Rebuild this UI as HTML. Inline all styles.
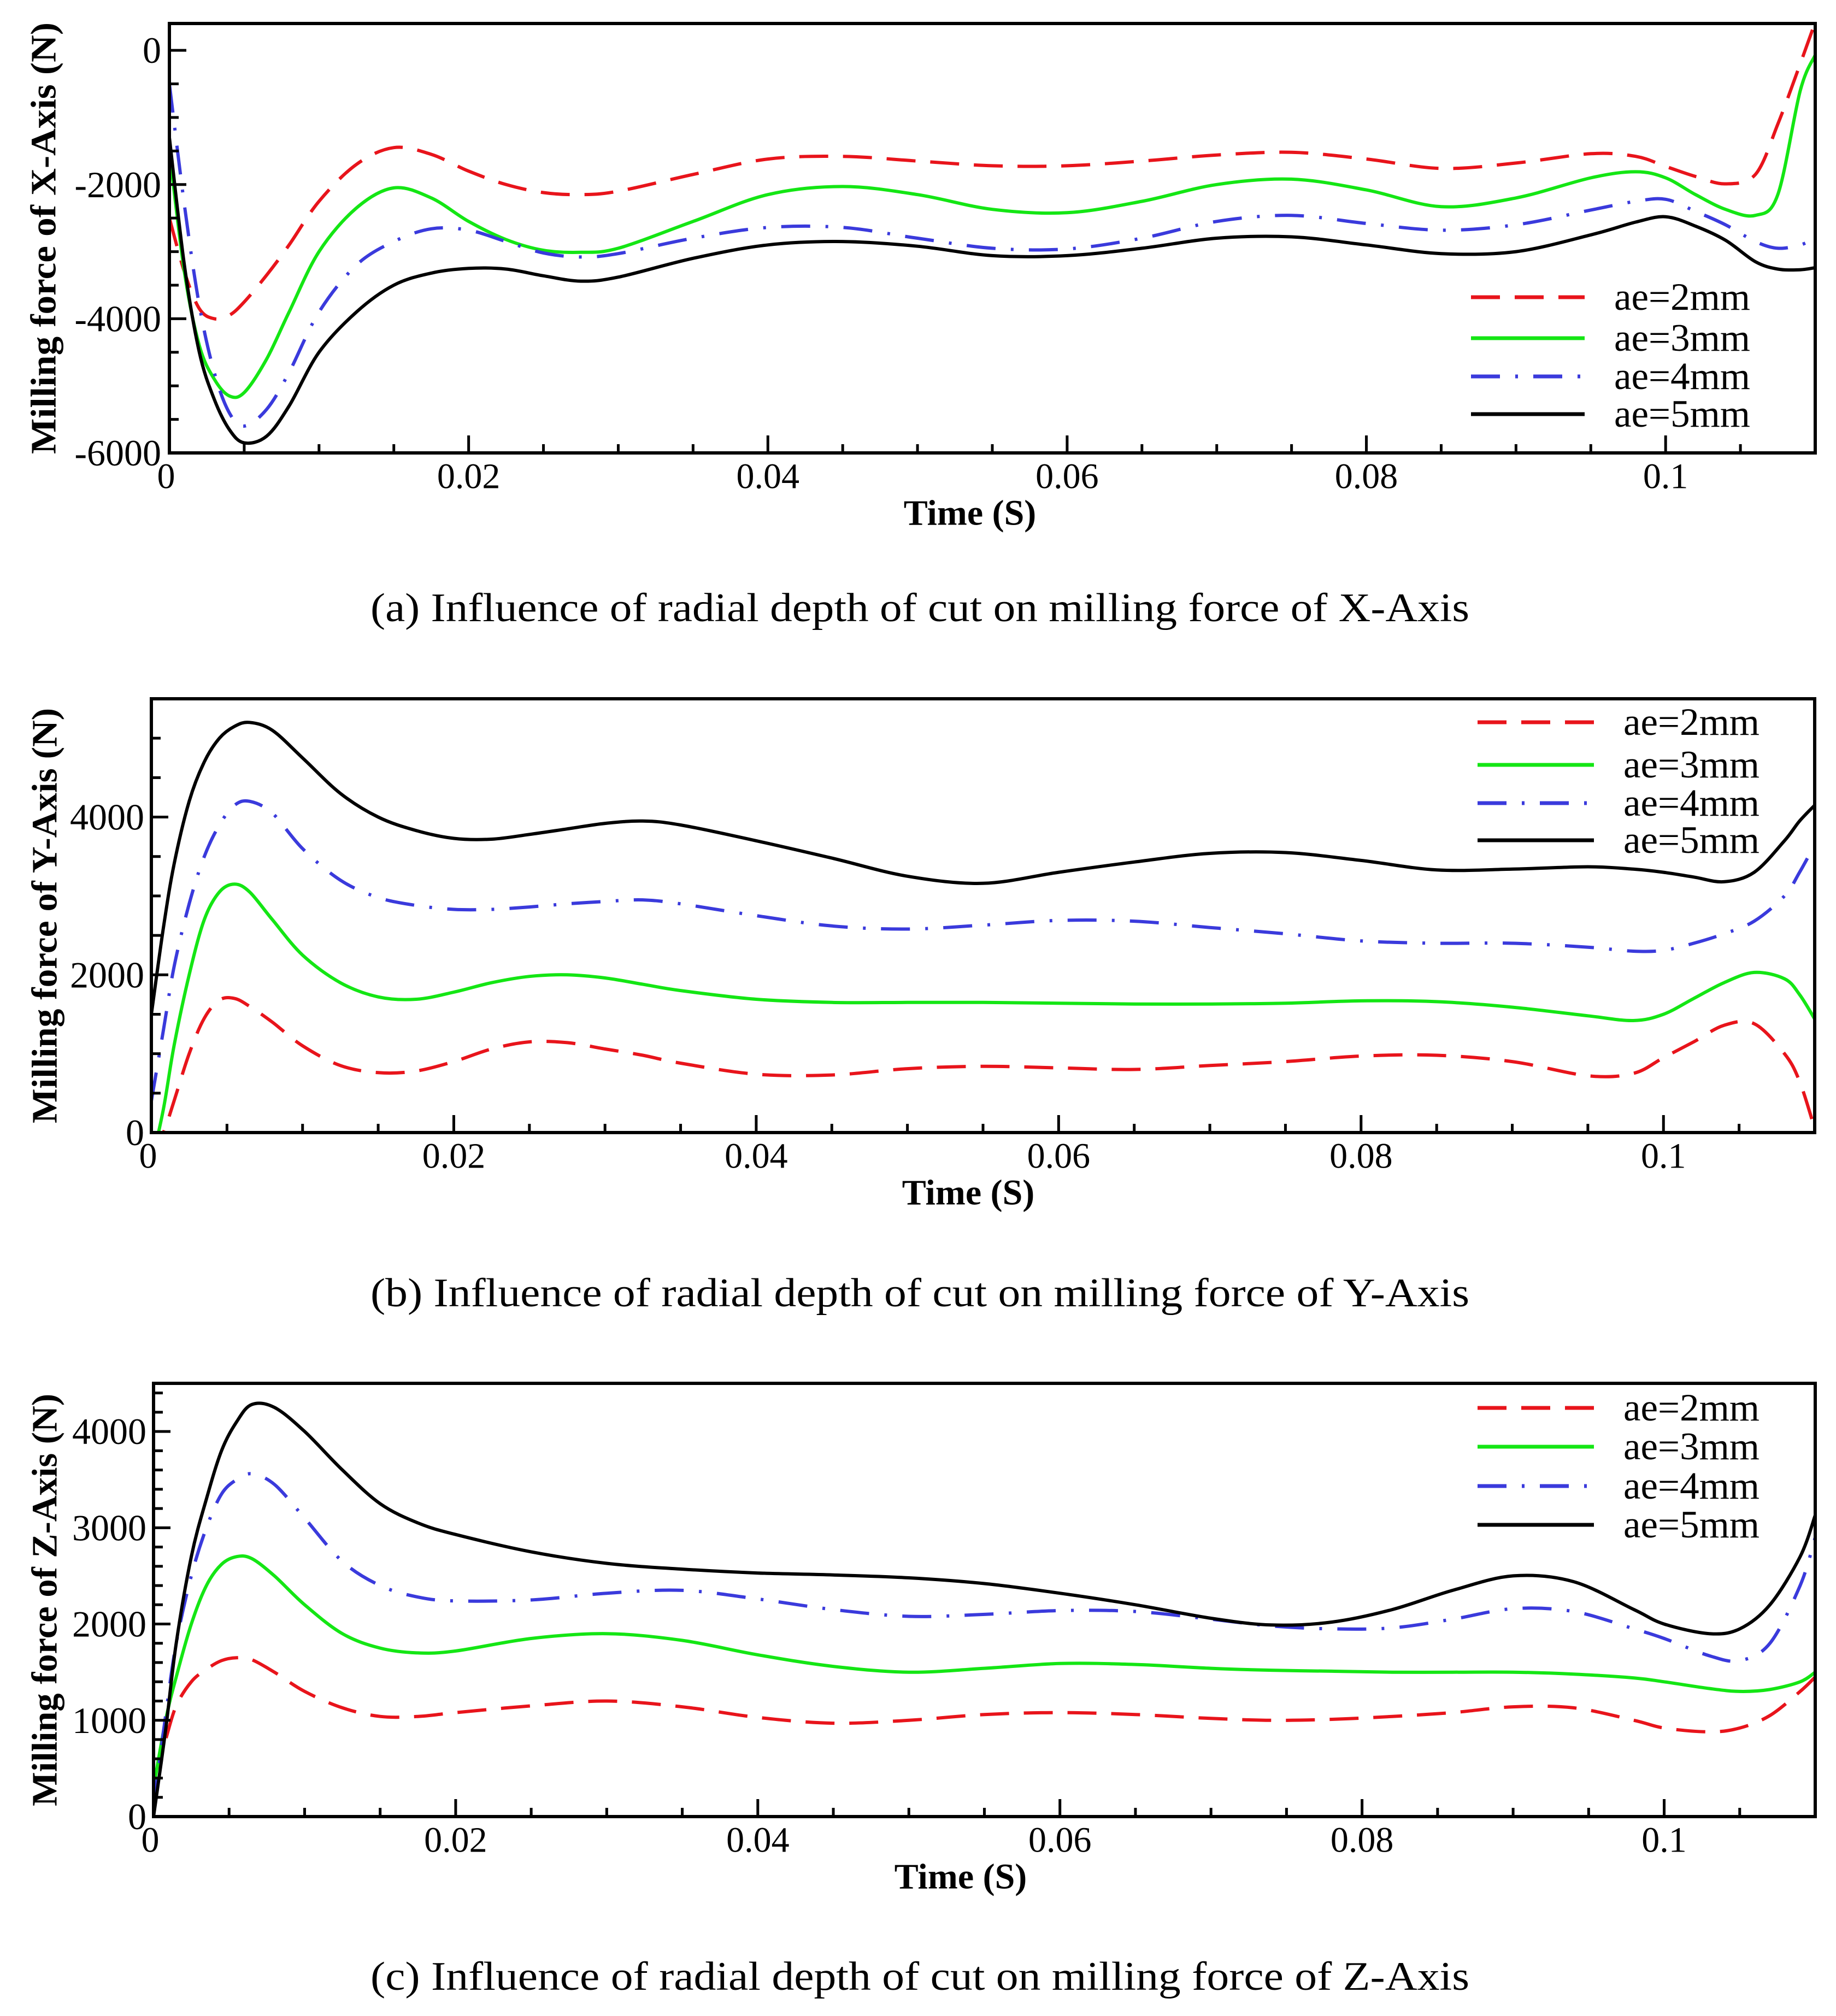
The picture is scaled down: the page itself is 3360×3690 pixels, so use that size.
<!DOCTYPE html>
<html><head><meta charset="utf-8">
<style>
html,body{margin:0;padding:0;background:#fff;}
svg{display:block;}
text{font-family:"Liberation Serif",serif;fill:#000;}
</style></head>
<body>
<svg id="fig" width="3360" height="3690" viewBox="0 0 3360 3690" xmlns="http://www.w3.org/2000/svg">
<defs>
<clipPath id="clipA"><rect x="310" y="43" width="3012" height="786"/></clipPath>
<clipPath id="clipB"><rect x="277" y="1279" width="3044" height="794"/></clipPath>
<clipPath id="clipC"><rect x="281" y="2532" width="3041" height="793"/></clipPath>
</defs>
<text x="678" y="1137" font-size="74" textLength="2011" lengthAdjust="spacingAndGlyphs">(a) Influence of radial depth of cut on milling force of X-Axis</text>
<text x="678" y="2391" font-size="74" textLength="2011" lengthAdjust="spacingAndGlyphs">(b) Influence of radial depth of cut on milling force of Y-Axis</text>
<text x="678" y="3642" font-size="74" textLength="2011" lengthAdjust="spacingAndGlyphs">(c) Influence of radial depth of cut on milling force of Z-Axis</text>
</svg>
<script>
// ---- Panel A data (X-Axis) ----
const timesA = [0,0.001,0.002,0.003,0.004,0.005,0.0065,0.008,0.01,0.0125,0.015,0.0175,0.02,0.0225,0.025,0.0275,0.03,0.035,0.04,0.045,0.05,0.055,0.06,0.065,0.07,0.075,0.08,0.085,0.09,0.095,0.098,0.1,0.102,0.104,0.106,0.1075,0.109,0.11];
const xAe2 = [-2500,-3300,-3850,-4000,-3950,-3750,-3350,-2900,-2250,-1700,-1450,-1550,-1800,-2000,-2120,-2150,-2100,-1850,-1620,-1580,-1650,-1720,-1720,-1650,-1560,-1520,-1620,-1760,-1680,-1540,-1580,-1730,-1880,-1990,-1850,-1100,-200,420];
const xAe3 = [-1500,-3300,-4400,-4900,-5150,-5100,-4600,-3900,-3000,-2350,-2050,-2200,-2550,-2820,-2980,-3010,-2950,-2550,-2150,-2030,-2150,-2370,-2420,-2250,-2000,-1920,-2080,-2330,-2200,-1900,-1810,-1900,-2150,-2370,-2460,-2150,-600,-70];
const xAe4 = [-500,-2300,-3800,-4800,-5400,-5600,-5350,-4800,-3900,-3200,-2850,-2660,-2680,-2850,-3020,-3080,-3030,-2800,-2640,-2640,-2800,-2950,-2960,-2800,-2550,-2460,-2580,-2680,-2600,-2380,-2250,-2220,-2400,-2600,-2850,-2950,-2900,-2800];
const xAe5 = [-1300,-3200,-4500,-5200,-5650,-5850,-5750,-5300,-4500,-3900,-3500,-3320,-3250,-3260,-3360,-3440,-3380,-3100,-2900,-2850,-2920,-3060,-3060,-2950,-2800,-2780,-2900,-3030,-3000,-2750,-2560,-2480,-2620,-2830,-3150,-3260,-3270,-3240];
const yTicksA = [0,-2000,-4000,-6000];
const yTickLabelsA = ["0","-2000","-4000","-6000"];

// ---- Panel B data (Y-Axis) ----
const timesB = [0,0.0008,0.0015,0.0025,0.0035,0.0045,0.0055,0.0065,0.008,0.01,0.0125,0.015,0.0175,0.02,0.0225,0.025,0.0275,0.03,0.0325,0.035,0.04,0.045,0.05,0.055,0.06,0.065,0.07,0.075,0.08,0.085,0.09,0.095,0.098,0.1,0.102,0.104,0.106,0.108,0.109,0.11];
const yAe2 = [-300,0,400,1000,1450,1680,1700,1600,1400,1100,850,760,780,900,1060,1150,1140,1060,980,880,740,730,810,840,820,800,850,900,970,980,900,720,750,950,1150,1360,1380,1000,650,50];
const yAe3 = [-400,300,1100,2000,2700,3050,3150,3050,2700,2250,1900,1720,1690,1780,1900,1980,2000,1960,1880,1800,1690,1650,1650,1650,1640,1630,1630,1640,1670,1660,1590,1480,1420,1500,1700,1900,2030,1950,1750,1440];
const yAe4 = [400,1300,2100,2900,3500,3900,4150,4200,4050,3600,3200,2980,2880,2830,2830,2860,2900,2930,2950,2900,2750,2620,2580,2630,2690,2680,2600,2520,2430,2400,2400,2350,2300,2310,2400,2520,2680,3000,3300,3650];
const yAe5 = [1500,2600,3400,4200,4700,5000,5150,5200,5100,4750,4300,4000,3830,3730,3720,3780,3850,3920,3950,3900,3700,3480,3250,3160,3300,3430,3540,3550,3450,3330,3340,3370,3340,3300,3240,3180,3300,3700,3950,4150];
const yTicksB = [0,2000,4000];
const yTickLabelsB = ["0","2000","4000"];

// ---- Panel C data (Z-Axis) ----
const timesC = [0,0.0008,0.0015,0.0025,0.0035,0.0045,0.0055,0.0065,0.008,0.01,0.0125,0.015,0.0175,0.02,0.025,0.03,0.035,0.04,0.045,0.05,0.055,0.06,0.065,0.07,0.074,0.078,0.082,0.086,0.09,0.094,0.098,0.1,0.103,0.105,0.107,0.109,0.11];
const zAe2 = [380,800,1150,1400,1530,1620,1650,1630,1500,1300,1130,1040,1040,1080,1150,1200,1140,1030,970,1000,1060,1080,1060,1020,1000,1010,1040,1080,1140,1130,1000,920,880,920,1050,1300,1450];
const zAe3 = [300,1000,1450,2000,2400,2620,2700,2680,2500,2200,1900,1750,1700,1720,1850,1900,1830,1680,1560,1500,1540,1590,1580,1540,1520,1510,1500,1500,1500,1480,1440,1400,1330,1300,1320,1400,1500];
const zAe4 = [100,1050,1800,2500,3000,3350,3500,3560,3450,3100,2650,2400,2280,2240,2250,2320,2350,2260,2150,2080,2100,2140,2130,2050,1980,1950,1960,2050,2160,2130,1950,1850,1670,1620,1800,2400,2900];
const zAe5 = [0,900,1800,2700,3300,3800,4100,4280,4250,4000,3600,3250,3050,2930,2750,2630,2570,2530,2510,2480,2420,2320,2200,2060,1990,2020,2150,2350,2500,2440,2150,2000,1900,1950,2200,2700,3130];
const yTicksC = [0,1000,2000,3000,4000];
const yTickLabelsC = ["0","1000","2000","3000","4000"];

const xTicks = [0,0.02,0.04,0.06,0.08,0.1];
const xTickLabels = ["0","0.02","0.04","0.06","0.08","0.1"];
const legendLabels = ["ae=2mm","ae=3mm","ae=4mm","ae=5mm"];

const NS = "http://www.w3.org/2000/svg";
const svg = document.getElementById('fig');
const styles = [
  {color:"#e8141b", dash:"53 27"},
  {color:"#14e614", dash:""},
  {color:"#3a3adc", dash:"53 28 5 28"},
  {color:"#000000", dash:""}
];
function mk(tag, attrs, parent){
  const e = document.createElementNS(NS, tag);
  for (const k in attrs) e.setAttribute(k, attrs[k]);
  (parent||svg).appendChild(e);
  return e;
}
function smoothPath(pts){
  let d = "M" + pts[0][0].toFixed(1) + "," + pts[0][1].toFixed(1);
  for (let i=0;i<pts.length-1;i++){
    const p0 = pts[Math.max(0,i-1)], p1 = pts[i], p2 = pts[i+1], p3 = pts[Math.min(pts.length-1,i+2)];
    const c1x = p1[0]+(p2[0]-p0[0])/6, c1y = p1[1]+(p2[1]-p0[1])/6;
    const c2x = p2[0]-(p3[0]-p1[0])/6, c2y = p2[1]-(p3[1]-p1[1])/6;
    d += " C"+c1x.toFixed(1)+","+c1y.toFixed(1)+" "+c2x.toFixed(1)+","+c2y.toFixed(1)+" "+p2[0].toFixed(1)+","+p2[1].toFixed(1);
  }
  return d;
}
function drawPanel(cfg){
  const {key,L,R,T,B,ymin,ymax,yMinor,times,series,yTicks,yLabels,yLabelRight,yTitle,yTitleX,yTitleLen,timeX,legendRows,legendX0,legendX1,legendTextX,clip} = cfg;
  const xS = t => L + (t/0.11)*(R-L);
  const yS = v => B - (v-ymin)/(ymax-ymin)*(B-T);
  const g = mk('g',{});
  
  
  // series
  series.forEach((vals,si)=>{
    const pts = times.map((t,i)=>[xS(t), yS(vals[i])]);
    const p = mk('path',{d:smoothPath(pts), fill:'none', stroke:styles[si].color, 'stroke-width':6, 'stroke-dasharray':styles[si].dash, 'clip-path':'url(#'+clip+')', 'stroke-linejoin':'round'}, g);
    
    
  });
  // minor y ticks
  for (let v=ymin; v<=ymax+1e-9; v+=yMinor){
    const y = yS(v);
    const isMajor = yTicks.some(m=>Math.abs(m-v)<1e-6);
    const tk = mk('line',{x1:L, x2:L+(isMajor?31:17), y1:y, y2:y, stroke:'#000','stroke-width':5}, g);
    
    
  }
  // x ticks
  for (let i=0;i<=22;i++){
    const t = i*0.005;
    const x = xS(t);
    const isMajor = (i%4===0);
    const tk = mk('line',{x1:x, x2:x, y1:B, y2:B-(isMajor?32:16), stroke:'#000','stroke-width':5}, g);
    
    
  }
  // frame
  const fr = mk('rect',{x:L, y:T, width:R-L, height:B-T, fill:'none', stroke:'#000','stroke-width':6}, g);
  
  
  // y tick labels
  yTicks.forEach((v,i)=>{
    const tx = mk('text',{x:yLabelRight, y:yS(v), 'font-size':68, 'text-anchor':'end', 'dominant-baseline':'central'}, g);
    tx.textContent = yLabels[i];
    
    
  });
  // x tick labels
  xTicks.forEach((t,i)=>{
    const tx = mk('text',{x:xS(t)-(i===0?6:0), y:B+43, 'font-size':66, 'text-anchor':'middle', 'dominant-baseline':'central'}, g);
    tx.textContent = xTickLabels[i];
    
    
  });
  // x title
  const xt = mk('text',{x:timeX, y:B+110, 'font-size':66, 'font-weight':'bold', 'text-anchor':'middle', 'dominant-baseline':'central'}, g);
  xt.textContent = "Time (S)";
  
  
  // y title
  const cy = (T+B)/2;
  const yt = mk('text',{x:yTitleX, y:cy, 'font-size':66, 'font-weight':'bold', 'text-anchor':'middle', 'dominant-baseline':'central', transform:'rotate(-90 '+yTitleX+' '+cy+')', textLength:yTitleLen, lengthAdjust:'spacingAndGlyphs'}, g);
  yt.textContent = yTitle;
  
  
  // legend
  const lg = mk('g',{}, g);
  
  
  legendRows.forEach((y,i)=>{
    const ln = mk('line',{x1:legendX0, x2:legendX1, y1:y, y2:y, stroke:styles[i].color, 'stroke-width':7, 'stroke-dasharray':styles[i].dash}, lg);
    
    
    const tx = mk('text',{x:legendTextX, y:y, 'font-size':71, 'dominant-baseline':'central'}, lg);
    tx.textContent = legendLabels[i];
    
    
  });
}
drawPanel({key:'a',L:310,R:3322,T:43,B:829,ymin:-6000,ymax:400,yMinor:500,times:timesA,series:[xAe2,xAe3,xAe4,xAe5],yTicks:yTicksA,yLabels:yTickLabelsA,yLabelRight:295,yTitle:"Milling force of X-Axis (N)",yTitleX:80,yTitleLen:790,timeX:1775,legendRows:[544,619,689,758],legendX0:2692,legendX1:2900,legendTextX:2954,clip:'clipA'});
drawPanel({key:'b',L:277,R:3321,T:1279,B:2073,ymin:0,ymax:5500,yMinor:500,times:timesB,series:[yAe2,yAe3,yAe4,yAe5],yTicks:yTicksB,yLabels:yTickLabelsB,yLabelRight:264,yTitle:"Milling force of Y-Axis (N)",yTitleX:82,yTitleLen:760,timeX:1772,legendRows:[1322,1400,1470,1538],legendX0:2704,legendX1:2917,legendTextX:2971,clip:'clipB'});
drawPanel({key:'c',L:281,R:3322,T:2532,B:3325,ymin:0,ymax:4500,yMinor:200,times:timesC,series:[zAe2,zAe3,zAe4,zAe5],yTicks:yTicksC,yLabels:yTickLabelsC,yLabelRight:268,yTitle:"Milling force of Z-Axis (N)",yTitleX:82,yTitleLen:755,timeX:1758,legendRows:[2577,2648,2720,2791],legendX0:2704,legendX1:2917,legendTextX:2971,clip:'clipC'});
</script>
</body></html>
